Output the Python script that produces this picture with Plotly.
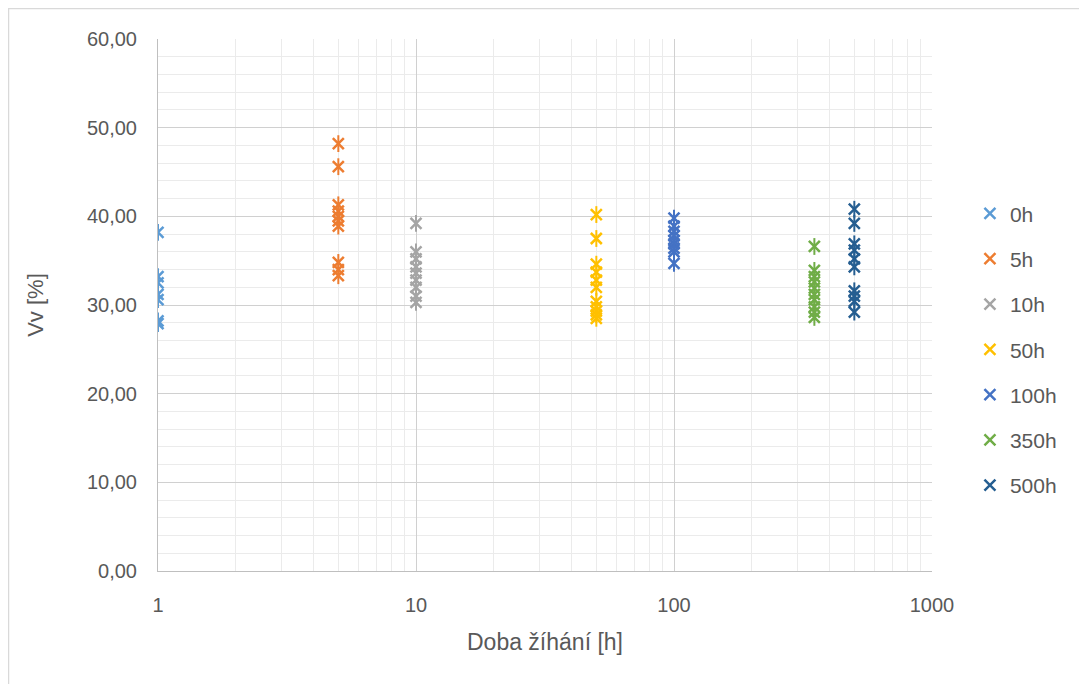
import plotly.graph_objects as go

series_names = ["0h", "5h", "10h", "50h", "100h", "350h", "500h"]
series_x = [1, 5, 10, 50, 100, 350, 500]
series_colors = ["#5B9BD5", "#ED7D31", "#A5A5A5", "#FFC000", "#4472C4", "#70AD47", "#255E91"]

vals_0h = [38.2, 33.2, 32.5, 31.2, 30.6, 28.2, 27.9]
vals_5h = [48.2, 45.6, 41.3, 40.6, 40.0, 39.5, 38.9, 34.8, 34.0, 33.3]
vals_10h = [39.2, 36.0, 35.2, 34.3, 33.6, 32.8, 32.0, 31.0, 30.3]
vals_50h = [40.2, 37.5, 34.6, 33.7, 32.8, 32.0, 30.4, 29.8, 29.3, 28.9, 28.5]
vals_100h = [39.8, 38.9, 38.3, 37.8, 37.3, 36.9, 36.4, 36.0, 34.7]
vals_350h = [36.6, 33.9, 33.2, 32.6, 31.9, 31.2, 30.6, 29.8, 29.2, 28.6]
vals_500h = [40.8, 39.2, 36.9, 36.2, 35.2, 34.3, 31.6, 31.0, 30.4, 29.2]
all_vals = [vals_0h, vals_5h, vals_10h, vals_50h, vals_100h, vals_350h, vals_500h]

x_ticks = [1, 10, 100, 1000]
x_minor = [m * 10 ** d for d in range(3) for m in range(2, 10)]
y_range = [0, 60]

FONT = "Liberation Sans"
TXT = "#595959"

fig = go.Figure()
for name, xv, col, vals in zip(series_names, series_x, series_colors, all_vals):
    xs = [xv] * len(vals)
    fig.add_trace(go.Scatter(
        x=xs, y=vals, mode="markers", name=name, legendgroup=name,
        marker=dict(symbol="x-thin-open", size=11, color=col,
                    line=dict(color=col, width=2.5)),
    ))
    fig.add_trace(go.Scatter(
        x=xs, y=vals, mode="markers", name=name, legendgroup=name, showlegend=False,
        hoverinfo="skip",
        marker=dict(symbol="line-ns-open", size=12, color=col,
                    line=dict(color=col, width=2)),
    ))

W, H = 1079, 676
L, R, T, B = 150, 155, 31, 113
pw, ph = W - L - R, H - T - B

fig.update_layout(
    width=W, height=H,
    margin=dict(l=L, r=R, t=T, b=B),
    paper_bgcolor="white", plot_bgcolor="white",
    separators=",.",
    font=dict(family=FONT, color=TXT, size=20),
    showlegend=True,
    legend=dict(x=1.049, y=0.71, xanchor="left", yanchor="top",
                font=dict(size=21, color=TXT), tracegroupgap=15,
                itemwidth=30, bgcolor="rgba(0,0,0,0)"),
    xaxis=dict(type="log", range=[0, 3], tickvals=x_ticks,
               ticktext=[str(v) for v in x_ticks],
               showgrid=True, gridcolor="#D0D0D0", gridwidth=1,
               showline=True, linecolor="#BFBFBF", linewidth=1,
               zeroline=False, ticks="", tickfont=dict(size=20, color=TXT),
               ticklabelstandoff=16,
               minor=dict(tickvals=x_minor, showgrid=True, gridcolor="#EBEBEB", gridwidth=1, ticks=""),
               title=dict(text="Doba žíhání [h]", font=dict(size=23, color=TXT), standoff=18)),
    yaxis=dict(range=y_range, dtick=10, tickformat=".2f",
               showgrid=True, gridcolor="#D0D0D0", gridwidth=1,
               showline=True, linecolor="#BFBFBF", linewidth=1,
               zeroline=False, ticks="", tickfont=dict(size=20, color=TXT),
               ticklabelstandoff=16,
               minor=dict(dtick=2, showgrid=True, gridcolor="#EBEBEB", gridwidth=1, ticks=""),
               title=dict(text="Vv [%]", font=dict(size=22, color=TXT), standoff=37)),
)

# outer chart frame
fig.add_shape(type="rect", xref="paper", yref="paper",
              x0=(0.5 - L) / pw, x1=(W + 20 - L) / pw,
              y0=1 - (H + 20 - T) / ph, y1=1 - (0.5 - T) / ph,
              line=dict(color="#D9D9D9", width=1.5), fillcolor="rgba(0,0,0,0)", layer="below")

fig.write_html("out.html")
